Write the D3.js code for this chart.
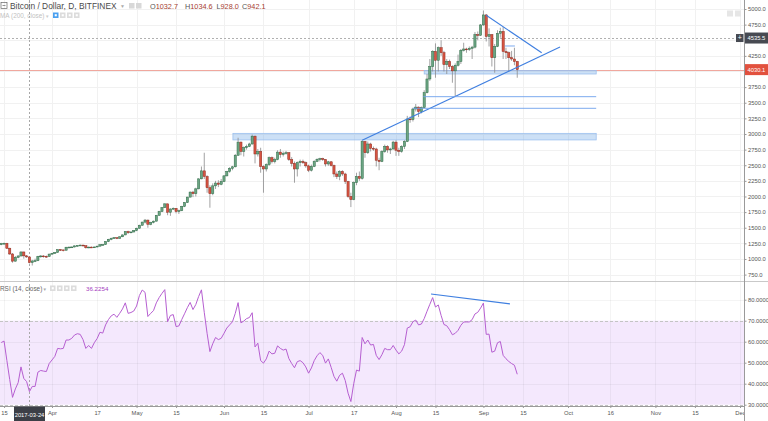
<!DOCTYPE html>
<html><head><meta charset="utf-8">
<script src="https://cdn.jsdelivr.net/npm/d3@7"></script>
<style>body{margin:0;background:#fff;} svg{display:block;font-family:"Liberation Sans",Arial,sans-serif;}</style>
</head><body><svg id="c" width="768" height="421"></svg>
<script>
// ---------------- DATA ----------------
const startDate = "2017-03-14"; // first daily candle, one candle per day
const opens = [
1228,1245,1250,1172,1080,965,1025,1048,1112,1050,1032.7,942.1,968,972,1042,1048,1042,1040,
1078,1090,1105,1148,1145,1140,1188,1190,1192,1210,1215,1222,1212,1180,1190,1182,1192,1205,1228,1230,1278,1315,1332,1340,1330,1355,1385,1438,1420,1432,
1455,1492,1540,1590,1622,1555,1585,1605,1698,1760,1822,1882,1748,1800,1810,1760,1772,1842,1902,1990,2070,2045,2122,2282,2410,2320,2140,2045,2170,2215,2195,
2240,2330,2400,2450,2475,2660,2870,2720,2780,2800,2840,2965,2680,2720,2480,2440,2510,2620,2560,2590,2710,2670,2690,2700,2590,2530,2440,2540,2560,2540,
2490,2420,2480,2560,2595,2605,2590,2520,2555,2495,2360,2320,2400,2360,2240,2000,1950,2220,2320,2290,2880,2700,2840,2770,2760,2580,2560,2720,2800,2745,2760,
2870,2740,2720,2800,2880,3240,3230,3400,3430,3360,3420,3660,3880,4080,4320,4180,4380,4300,4110,4160,4080,4010,4100,4160,4340,4360,4350,4370,4390,4590,4580,
4745,4905,4560,4590,4220,4400,4610,4640,4320,4300,4220,4200,4160];
const highs = [
1258,1262,1258,1180,1095,1048,1060,1122,1118,1062,1034.6,985,1005,1050,1062,1060,1055,1085,
1098,1112,1155,1160,1150,1195,1198,1200,1215,1222,1232,1228,1215,1198,1200,1198,1212,1232,1240,1285,1322,1340,1350,1345,1362,1392,1445,1452,1440,1462,
1500,1548,1598,1640,1630,1595,1615,1705,1770,1830,1890,1885,1810,1825,1815,1790,1850,1910,1995,2080,2090,2140,2290,2480,2700,2340,2180,2210,2250,2260,2280,
2340,2410,2470,2490,2680,2940,2880,2800,2830,2860,2990,2975,2760,2780,2500,2530,2640,2640,2620,2740,2760,2720,2730,2710,2630,2560,2560,2590,2590,2560,
2510,2510,2580,2610,2620,2620,2600,2570,2565,2510,2400,2420,2420,2380,2250,2060,2240,2380,2400,2900,2890,2880,2860,2800,2780,2620,2740,2830,2820,2780,2890,
2900,2780,2820,2900,3290,3280,3420,3480,3440,3440,3700,3960,4200,4340,4450,4400,4500,4330,4200,4190,4100,4130,4270,4360,4460,4380,4400,4410,4630,4640,4760,
4975,4920,4690,4600,4440,4660,4700,4710,4380,4320,4330,4380,4170];
const lows = [
1220,1236,1160,1065,940,958,1012,1040,1005,1018,928.0,895,950,965,1020,1022,1020,1035,
1070,1082,1100,1130,1120,1138,1170,1178,1185,1200,1208,1198,1165,1172,1175,1178,1185,1200,1215,1225,1270,1300,1320,1318,1325,1350,1380,1400,1410,1425,
1445,1485,1532,1570,1500,1540,1570,1600,1690,1750,1815,1700,1690,1785,1730,1720,1765,1830,1895,1985,1990,2000,2115,2275,2280,2060,1820,2020,2120,2150,2180,
2230,2320,2380,2420,2465,2650,2660,2640,2750,2790,2830,2530,2640,2380,2060,2400,2490,2530,2530,2580,2620,2640,2670,2570,2480,2220,2320,2480,2520,2460,
2390,2400,2470,2550,2560,2570,2480,2490,2480,2310,2280,2260,2330,2200,1980,1830,1940,2180,2250,2270,2620,2680,2720,2730,2480,2420,2550,2700,2700,2680,2750,
2650,2650,2700,2760,2870,3180,3200,3360,3270,3330,3410,3650,3850,4000,3900,4000,4250,4000,3960,4040,3820,3600,4080,4120,4320,4300,4330,4200,4370,4500,4570,
4730,4480,4400,4080,3980,4390,4540,4200,4200,4000,4170,4100,3900];
const closes = [
1245,1250,1172,1080,965,1025,1048,1112,1050,1032.7,942.1,968,972,1042,1048,1042,1040,1078,
1090,1105,1148,1145,1140,1188,1190,1192,1210,1215,1222,1212,1180,1190,1182,1192,1205,1228,1230,1278,1315,1332,1340,1330,1355,1385,1438,1420,1432,1455,
1492,1540,1590,1622,1555,1585,1605,1698,1760,1822,1882,1748,1800,1810,1760,1772,1842,1902,1990,2070,2045,2122,2282,2410,2320,2140,2045,2170,2215,2195,2240,
2330,2400,2450,2475,2660,2870,2720,2780,2800,2840,2965,2680,2720,2480,2440,2510,2620,2560,2590,2710,2670,2690,2700,2590,2530,2440,2540,2560,2540,2490,
2420,2480,2560,2595,2605,2590,2520,2555,2495,2360,2320,2400,2360,2240,2000,1950,2220,2320,2290,2880,2700,2840,2770,2760,2580,2560,2720,2800,2745,2760,2870,
2740,2720,2800,2880,3240,3230,3400,3430,3360,3420,3660,3880,4080,4320,4180,4380,4300,4110,4160,4080,4010,4100,4160,4340,4360,4350,4370,4390,4590,4580,4745,
4905,4560,4590,4220,4400,4610,4640,4320,4300,4220,4200,4160,4030.1];
const rsiValues = [
59.6,60.3,51,42,33.5,37.5,40.5,48,42.5,41,36.2254,38.7,38.7,45.5,46.3,46,45.8,49.6,
51.3,53,56.8,56.6,56.8,60.8,60.8,61.6,63.2,63.8,63.5,61,56.8,58.2,56.8,59.5,61.5,64.5,64.1,68,70.5,72.3,73.1,71.6,73.5,75.6,78.5,73.5,73.9,74.6,
77,82,84.6,83.5,72,73.5,74.8,78.5,81,83,84.8,69.5,72.5,72.9,67.2,67.5,70.5,73.3,76.2,78.7,75.3,77.7,81.5,84.7,74,64,55.3,59,62,61,61.6,
64,66.5,68,69.5,73.5,78.6,69,69.8,71,71.5,73.8,57.5,59.3,51,49.8,51.8,55.5,54.2,54.5,58,56.8,56,56.5,52,49.6,47.6,50.5,51,50,48,
45,47.5,51,53.3,54.8,53.5,49.8,51.8,47.8,43.5,41.2,44,45,41.5,35.5,31.5,40,46.5,46,62,59,60.8,58.4,58.7,53.5,51.5,53.8,56.8,56.2,56.2,58.2,
56,54.2,55.5,58.6,66.5,67.1,69.5,70.3,68,68.4,71,74.5,77.8,81,76.5,77.5,72.5,68.2,67.6,65.7,63.3,64,65.4,67.8,69.4,69.4,69.4,70.5,73.2,74,76,
78.4,63.5,63.6,55,55.5,59.5,60.1,53.5,51.9,50.6,49.6,48.8,44.5];
const priceTicks = [750,1000,1250,1500,1750,2000,2250,2500,2750,3000,3250,3500,3750,4000,4250,4500,4750,5000];
const rsiTicks = [30,40,50,60,70,80];
const xTickDates = ["2017-03-15","2017-04-01","2017-04-17","2017-05-01","2017-05-15","2017-06-01","2017-06-15","2017-07-01","2017-07-17","2017-08-01","2017-08-15","2017-09-01","2017-09-15","2017-10-01","2017-10-16","2017-11-01","2017-11-15","2017-12-01"];
const xTickLabels = ["15","Apr","17","May","15","Jun","15","Jul","17","Aug","15","Sep","15","Oct","16","Nov","15","Dec"];
const crossDate = "2017-03-24";
const crossPrice = 4535.5;
const lastPrice = 4030.1;
// drawings (date, price / rsi)
const trendLines = [
  [["2017-07-20T00:00",2900],["2017-09-28T04:00",4390]],
  [["2017-09-02T00:00",4900],["2017-09-21T16:00",4300]],
  [["2017-09-08T16:00",4408],["2017-09-12T04:00",4408]],
  [["2017-08-07T00:00",3411],["2017-10-11T00:00",3411]],
  [["2017-08-10T16:00",3597],["2017-10-11T00:00",3597]]
];
const zones = [
  [["2017-08-11T00:00",4015],["2017-10-11T00:00",3960]],
  [["2017-06-04T04:00",3010],["2017-10-11T00:00",2905]]
];
const rsiLines = [[["2017-08-13T10:00",82.7],["2017-09-10T10:00",78.0]]];

// ---------------- CHART ----------------
const svg = d3.select("#c");
const pd = d3.utcParse("%Y-%m-%d");
const pt = d3.utcParse("%Y-%m-%dT%H:%M");
const start = pd(startDate);
const candles = closes.map((c,i)=>({date:d3.utcDay.offset(start,i),o:opens[i],h:highs[i],l:lows[i],c:c,r:rsiValues[i]}));

const AX = 744, PBOT = 281, RTOP = 282, RBOT = 406;
const x = d3.scaleUtc().domain([Date.UTC(2017,3,1), Date.UTC(2017,11,1)]).range([52, 740]);
const yP = d3.scaleLinear().domain([750, 5000]).range([274.6, 9]);
const yR = d3.scaleLinear().domain([30, 80]).range([404.7, 299.7]);
const px = v => Math.round(v) + 0.5;

const defs = svg.append("defs");
defs.append("clipPath").attr("id","cp").append("rect").attr("x",0).attr("y",0).attr("width",AX).attr("height",PBOT);
defs.append("clipPath").attr("id","cr").append("rect").attr("x",0).attr("y",RTOP).attr("width",AX).attr("height",RBOT-RTOP);
defs.append("clipPath").attr("id","cx").append("rect").attr("x",0).attr("y",0).attr("width",AX).attr("height",421-RBOT);

// RSI band
svg.append("rect").attr("x",0).attr("width",AX).attr("y",yR(70)).attr("height",yR(30)-yR(70)).attr("fill","#f4e8fd");
// grids
const grid = svg.append("g");
grid.selectAll("line.hg").data(priceTicks).join("line")
  .attr("x1",0).attr("x2",AX).attr("y1",d=>px(yP(d))).attr("y2",d=>px(yP(d)))
  .attr("stroke","#f1f1f1");
grid.selectAll("line.rg").data(rsiTicks.filter(t=>t!==70&&t!==30)).join("line")
  .attr("x1",0).attr("x2",AX).attr("y1",d=>px(yR(d))).attr("y2",d=>px(yR(d)))
  .attr("stroke","rgba(0,0,0,0.045)");
xTickDates.forEach(s=>{
  const xx = px(x(pd(s)));
  grid.append("line").attr("x1",xx).attr("x2",xx).attr("y1",0).attr("y2",PBOT).attr("stroke","#f1f1f1");
  grid.append("line").attr("x1",xx).attr("x2",xx).attr("y1",RTOP).attr("y2",RBOT).attr("stroke","rgba(0,0,0,0.045)");
});
[70,30].forEach(t=>{
  svg.append("line").attr("x1",0).attr("x2",AX).attr("y1",px(yR(t))).attr("y2",px(yR(t)))
    .attr("stroke","#c4c4c4").attr("stroke-dasharray","3,2");
});

// crosshair
const cx0 = px(x(pd(crossDate)));
svg.append("line").attr("x1",cx0).attr("x2",cx0).attr("y1",0).attr("y2",RBOT).attr("stroke","#a8a8a8").attr("stroke-dasharray","2,2");
svg.append("line").attr("x1",0).attr("x2",AX).attr("y1",px(yP(crossPrice))).attr("y2",px(yP(crossPrice)))
  .attr("stroke","#b0b0b0").attr("stroke-dasharray","2,2");

// last price line
svg.append("line").attr("x1",0).attr("x2",AX).attr("y1",px(yP(lastPrice))).attr("y2",px(yP(lastPrice))).attr("stroke","#f0a79e").attr("stroke-width",1);

// zones & drawings in price panel
const gp = svg.append("g").attr("clip-path","url(#cp)");
gp.selectAll("rect.zone").data(zones).join("rect")
  .attr("x",d=>x(pt(d[0][0]))).attr("width",d=>x(pt(d[1][0]))-x(pt(d[0][0])))
  .attr("y",d=>yP(d[0][1])).attr("height",d=>yP(d[1][1])-yP(d[0][1]))
  .attr("fill","rgba(110,165,230,0.35)").attr("stroke","#9cc0ee").attr("stroke-width",0.8);

// candles
const cw = 2.2;
gp.selectAll("line.wick").data(candles).join("line")
  .attr("x1",d=>x(d.date)).attr("x2",d=>x(d.date)).attr("y1",d=>yP(d.h)).attr("y2",d=>yP(d.l))
  .attr("stroke","#8a8a8c").attr("stroke-width",0.8);
gp.selectAll("rect.body").data(candles).join("rect")
  .attr("x",d=>x(d.date)-cw/2).attr("width",cw)
  .attr("y",d=>yP(Math.max(d.o,d.c))).attr("height",d=>Math.max(0.8,Math.abs(yP(d.o)-yP(d.c))))
  .attr("fill",d=>d.c>=d.o?"#6ba583":"#d75442")
  .attr("stroke",d=>d.c>=d.o?"#2f6b47":"#8e2a1e").attr("stroke-width",0.5);

gp.selectAll("line.tl").data(trendLines).join("line")
  .attr("x1",d=>x(pt(d[0][0]))).attr("y1",d=>yP(d[0][1]))
  .attr("x2",d=>x(pt(d[1][0]))).attr("y2",d=>yP(d[1][1]))
  .attr("stroke",(d,i)=>i<2?"#3f7fe0":"#6ea0ec").attr("stroke-width",(d,i)=>i<2?1.1:0.9);

// RSI
const gr = svg.append("g").attr("clip-path","url(#cr)");
gr.append("path").datum(candles)
  .attr("d",d3.line().x(d=>x(d.date)).y(d=>yR(d.r)))
  .attr("fill","none").attr("stroke","#b65fd1").attr("stroke-width",1);
gr.selectAll("line.rl").data(rsiLines).join("line")
  .attr("x1",d=>x(pt(d[0][0]))).attr("y1",d=>yR(d[0][1]))
  .attr("x2",d=>x(pt(d[1][0]))).attr("y2",d=>yR(d[1][1]))
  .attr("stroke","#3f7fe0").attr("stroke-width",1.1);

// separators
svg.append("line").attr("x1",0).attr("x2",768).attr("y1",PBOT+0.5).attr("y2",PBOT+0.5).attr("stroke","#c9c9c9");
svg.append("line").attr("x1",0).attr("x2",AX).attr("y1",RBOT+0.5).attr("y2",RBOT+0.5).attr("stroke","#9a9a9a");
svg.append("line").attr("x1",AX+0.5).attr("x2",AX+0.5).attr("y1",0).attr("y2",421).attr("stroke","#9a9a9a");

// axes
function styleAxis(g){
  g.select(".domain").remove();
  g.selectAll(".tick line").attr("stroke","#9a9a9a");
  g.selectAll(".tick text").attr("fill","#555").attr("font-size","5.8px").attr("font-family","Liberation Sans, Arial, sans-serif");
}
const hiddenNear = [crossPrice, lastPrice];
const pAxis = svg.append("g").attr("transform",`translate(${AX},0)`)
  .call(d3.axisRight(yP).tickValues(priceTicks).tickFormat(d3.format(".1f")).tickSize(2.5).tickPadding(1.5)).call(styleAxis);
pAxis.selectAll(".tick text").filter(d=>hiddenNear.some(p=>Math.abs(yP(p)-yP(d))<10)).remove();
svg.append("g").attr("transform",`translate(${AX},0)`)
  .call(d3.axisRight(yR).tickValues(rsiTicks).tickFormat(d3.format(".4f")).tickSize(2.5).tickPadding(1.5)).call(styleAxis);
const xAxis = svg.append("g").attr("transform",`translate(0,${RBOT})`).attr("clip-path","url(#cx)")
  .call(d3.axisBottom(x).tickValues(xTickDates.map(pd)).tickFormat((d,i)=>xTickLabels[i]).tickSize(2).tickPadding(2.5)).call(styleAxis);
xAxis.selectAll(".tick text").filter(d=>Math.abs(x(d)-x(pd(crossDate)))<20).remove();

// crosshair date label
const lw = 31;
svg.append("rect").attr("x",cx0-lw/2).attr("y",RBOT+0.5).attr("width",lw).attr("height",421-RBOT).attr("fill","#3c3f47");
svg.append("text").attr("x",cx0).attr("y",416.5).attr("text-anchor","middle").attr("fill","#fff").attr("font-size","5.8px").text(crossDate);

// price labels
const f1 = d3.format(".1f");
function priceLabel(p,fill){
  const yy = yP(p);
  svg.append("rect").attr("x",AX+1).attr("y",yy-5.5).attr("width",768-AX-1).attr("height",11).attr("fill",fill);
  svg.append("text").attr("x",AX+3.5).attr("y",yy+2).attr("fill","#fff").attr("font-size","5.8px").text(f1(p));
}
priceLabel(crossPrice,"#474a52");
priceLabel(lastPrice,"#e2513e");
svg.append("rect").attr("x",AX-8).attr("y",yP(crossPrice)-4).attr("width",7.5).attr("height",8).attr("fill","#474a52");
svg.append("text").attr("x",AX-4.25).attr("y",yP(crossPrice)+2.3).attr("text-anchor","middle").attr("fill","#fff").attr("font-size","7px").text("+");

// header
const hd = svg.append("g");
hd.append("rect").attr("x",1).attr("y",2.5).attr("width",6).attr("height",6).attr("fill","none").attr("stroke","#666").attr("stroke-width",0.7);
hd.append("line").attr("x1",2.5).attr("x2",5.5).attr("y1",5.5).attr("y2",5.5).attr("stroke","#666").attr("stroke-width",0.7);
hd.append("text").attr("x",10).attr("y",8.8).attr("font-size","8.4px").attr("fill","#4a4a4a").text("Bitcoin / Dollar, D, BITFINEX");
hd.append("text").attr("x",120).attr("y",8.2).attr("font-size","5px").attr("fill","#aaa").text("▼");
[129,136].forEach(xx=>hd.append("rect").attr("x",xx).attr("y",3).attr("width",5.5).attr("height",5.5).attr("fill","#d8d8d8"));
const ci = candles.findIndex(d=>+d.date===+pd(crossDate));
const cc = candles[ci];
const col = cc.c>=cc.o ? "#3f8a5a" : "#a63d30";
[["O",cc.o,150],["H",cc.h,185],["L",cc.l,216.5],["C",cc.c,242]].forEach(([k,v,xx])=>{
  const t = hd.append("text").attr("x",xx).attr("y",8.8).attr("font-size","7.3px");
  t.append("tspan").attr("fill","#555").text(k);
  t.append("tspan").attr("fill",col).text(f1(v));
});
hd.append("text").attr("x",0).attr("y",18.2).attr("font-size","6.4px").attr("fill","#c2c2c2").text("MA (200, close)");
hd.append("text").attr("x",45).attr("y",17.6).attr("font-size","4.5px").attr("fill","#ccc").text("▼");
[53,60,67,74].forEach((xx,i)=>{
  hd.append("rect").attr("x",xx).attr("y",12.5).attr("width",5.5).attr("height",5.5).attr("fill",i===0?"#4aa0f0":"#dcdcdc");
  hd.append("rect").attr("x",xx+1.7).attr("y",14.2).attr("width",2.1).attr("height",2.1).attr("fill","#fff");
});
[727,735].forEach(xx=>hd.append("rect").attr("x",xx).attr("y",10.5).attr("width",6).attr("height",6).attr("fill","#e6e6e6"));

// RSI header
hd.append("text").attr("x",0).attr("y",291.2).attr("font-size","6.4px").attr("fill","#666").text("RSI (14, close)");
hd.append("text").attr("x",42.5).attr("y",290.6).attr("font-size","4.5px").attr("fill","#aaa").text("▼");
[50,57,64,71].forEach(xx=>{
  hd.append("rect").attr("x",xx).attr("y",285.5).attr("width",5.5).attr("height",5.5).attr("fill","#dcdcdc");
  hd.append("rect").attr("x",xx+1.7).attr("y",287.2).attr("width",2.1).attr("height",2.1).attr("fill","#fff");
});
hd.append("text").attr("x",86).attr("y",291.2).attr("font-size","6.2px").attr("fill","#a640c0").text(d3.format(".4f")(cc.r));
</script>
</body></html>
